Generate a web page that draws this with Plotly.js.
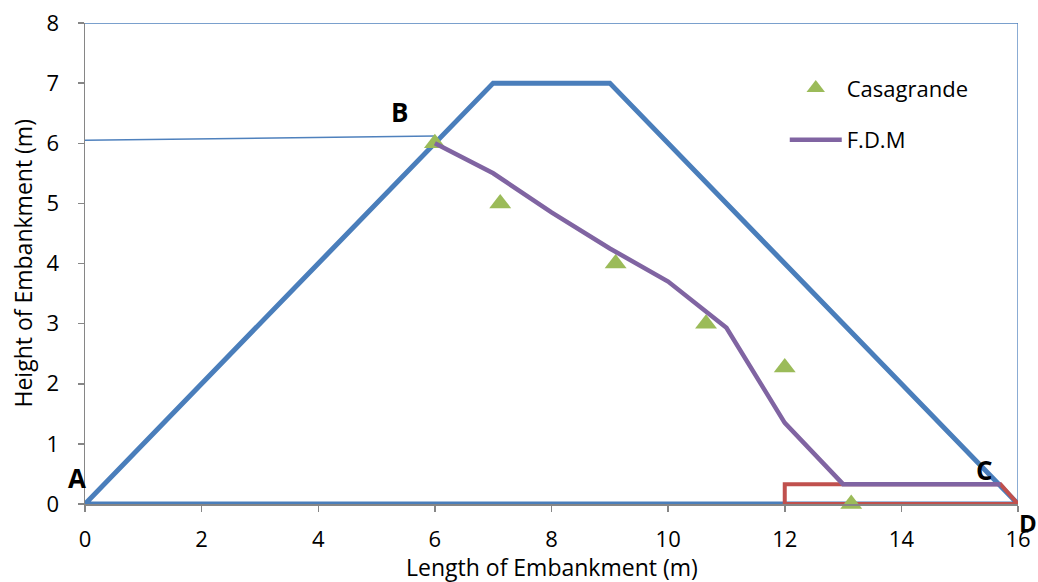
<!DOCTYPE html>
<html><head><meta charset="utf-8">
<script src="https://cdn.plot.ly/plotly-3.0.1.min.js"></script>
<style>body{margin:0;background:#fff}#c{width:1038px;height:582px}</style>
</head><body><div id="c"></div>
<script>
// Embankment outline
const embX = [0, 7, 9, 16, 0];
const embY = [0, 7, 7, 0, 0];
// Thin line from axis to B
const thinX = [0, 6];
const thinY = [6.05, 6.12];
// Frame line (top and right)
const frameX = [0, 16, 16];
const frameY = [8, 8, 0];
// Drain (red)
const drainX = [12, 12, 15.7, 16, 12];
const drainY = [0, 0.33, 0.33, 0, 0];
// F.D.M phreatic line
const fdmX = [6, 7, 8, 9, 10, 11, 12, 13, 15.7];
const fdmY = [6, 5.5, 4.85, 4.25, 3.7, 2.93, 1.35, 0.33, 0.33];
// Casagrande points
const casX = [6, 7.12, 9.1, 10.65, 12, 13.14];
const casY = [6, 5, 4, 3, 2.27, 0];
// Point labels
const lblText = ['A', 'B', 'C', 'D'];

const F = '"Open Sans", Lato, sans-serif';
const traces = [
  {x: frameX, y: frameY, mode: 'lines', line: {color: '#4F81BD', width: 1.3}, showlegend: false},
  {x: thinX, y: thinY, mode: 'lines', line: {color: '#4F81BD', width: 1.5}, showlegend: false},
  {x: embX, y: embY, mode: 'lines', line: {color: '#4A7EBB', width: 5}, showlegend: false, cliponaxis: false},
  {x: drainX, y: drainY, mode: 'lines', line: {color: '#C0504D', width: 4}, showlegend: false, cliponaxis: false},
  {x: casX, y: casY, mode: 'markers', name: 'Casagrande', marker: {symbol: 'triangle-up', size: 19, color: '#9BBB59'}, cliponaxis: false, legendgroup: 'a'},
  {x: fdmX, y: fdmY, mode: 'lines', name: 'F.D.M', line: {color: '#8064A2', width: 4.5}, cliponaxis: false, legendgroup: 'b'}
];
const lblFont = {family: F, size: 26, color: '#000'};
const C = {xanchor: 'center', yanchor: 'middle', showarrow: false};
const annotations = [
  Object.assign({x: -0.0086, y: 0.054, xref: 'paper', yref: 'paper', text: '<b>' + lblText[0] + '</b>', font: lblFont}, C),
  Object.assign({x: 5.385, y: 6.52, xref: 'x', yref: 'y', text: '<b>' + lblText[1] + '</b>', font: lblFont}, C),
  Object.assign({x: 15.42, y: 0.56, xref: 'x', yref: 'y', text: '<b>' + lblText[2] + '</b>', font: lblFont}, C),
  Object.assign({x: 1.0105, y: -0.038, xref: 'paper', yref: 'paper', text: '<b>' + lblText[3] + '</b>', font: {family: F, size: 24, color: '#000'}}, C),
  Object.assign({x: 0.5, y: -0.131, xref: 'paper', yref: 'paper', text: 'Length of Embankment (m)',
   font: {family: F, size: 23, color: '#000'}}, C),
  Object.assign({x: -0.0675, y: 0.5, xref: 'paper', yref: 'paper', text: 'Height of Embankment (m)', textangle: -90,
   font: {family: F, size: 23, color: '#000'}}, C)
];
const axisCommon = {
  showgrid: false, zeroline: false, showline: true, linecolor: '#868686', linewidth: 1.5,
  ticks: 'outside', ticklen: 6, tickcolor: '#868686', tickwidth: 1.5,
  tickfont: {family: F, size: 22, color: '#000'}
};
const layout = {
  width: 1038, height: 582,
  margin: {l: 85, r: 20, t: 23, b: 78},
  paper_bgcolor: '#fff', plot_bgcolor: '#fff',
  xaxis: Object.assign({}, axisCommon, {range: [0, 16], dtick: 2, tick0: 0, ticklabelstandoff: 9}),
  yaxis: Object.assign({}, axisCommon, {range: [0, 8], dtick: 1, tick0: 0, ticklabelstandoff: 14}),
  legend: {x: 0.75, y: 0.908, xanchor: 'left', yanchor: 'top', bgcolor: 'rgba(0,0,0,0)',
    font: {family: F, size: 22, color: '#000'}, tracegroupgap: 20, itemwidth: 52},
  annotations: annotations,
  showlegend: true
};
Plotly.newPlot('c', traces, layout, {displayModeBar: false, staticPlot: true});
</script></body></html>
